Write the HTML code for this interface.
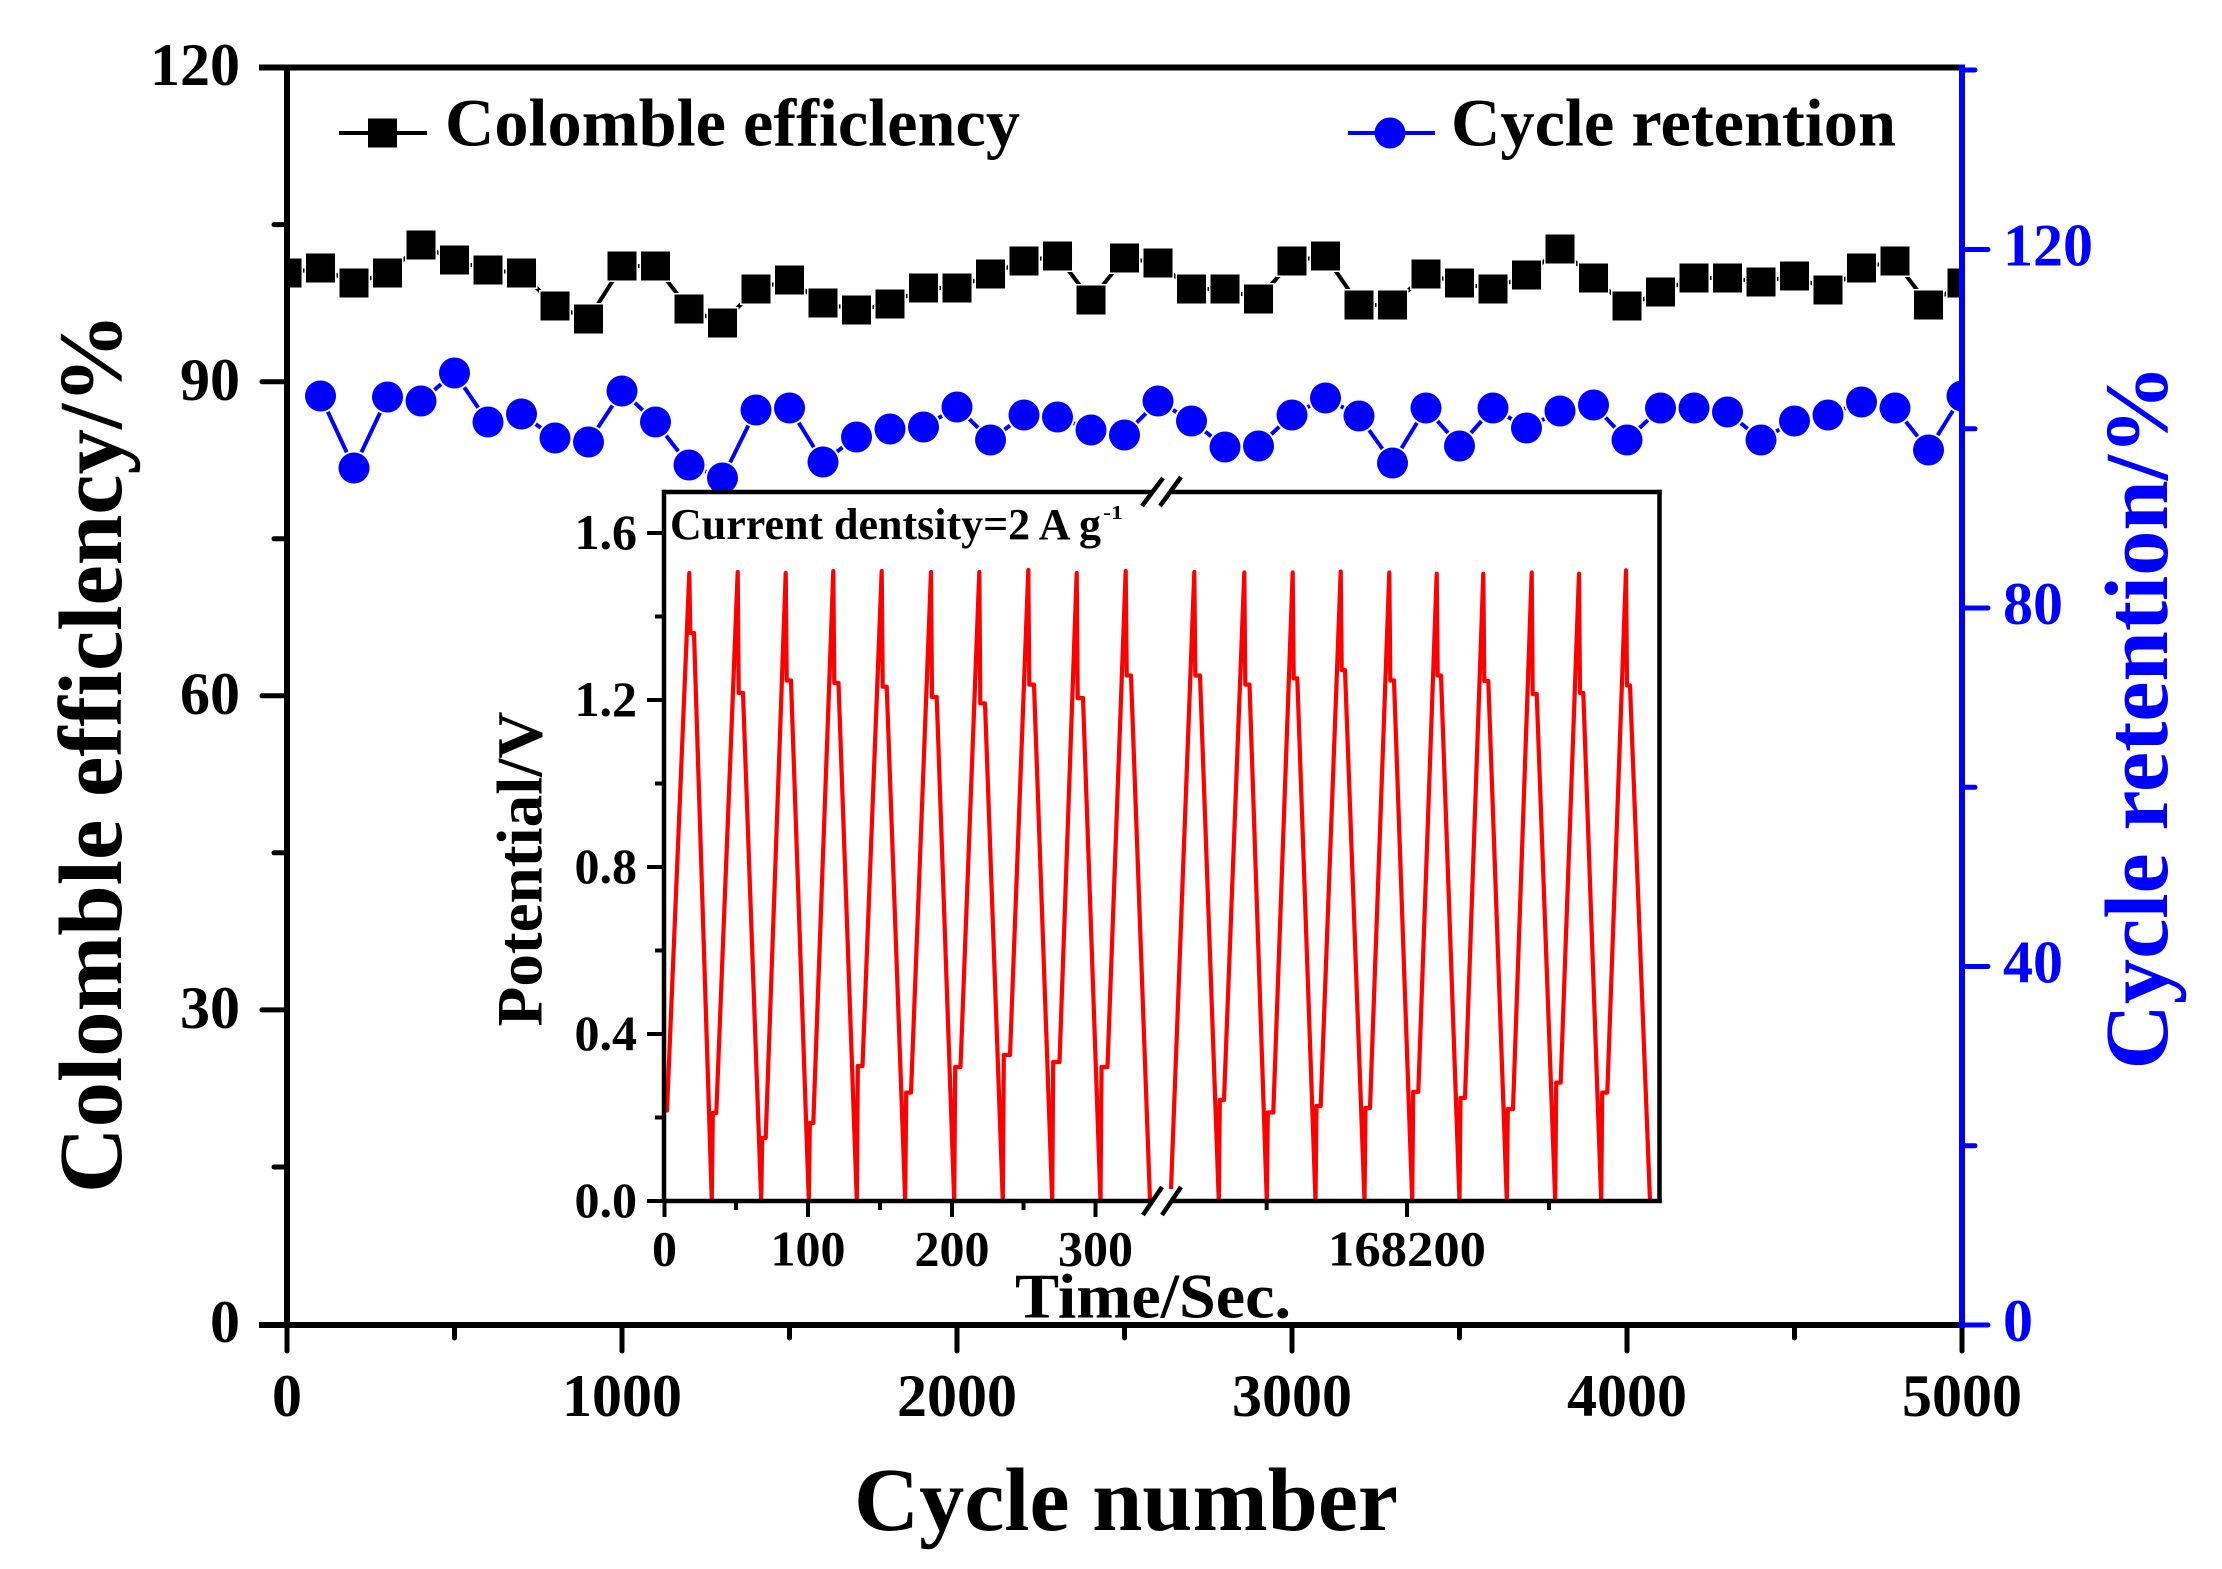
<!DOCTYPE html>
<html><head><meta charset="utf-8">
<style>
html,body{margin:0;padding:0;background:#fff}
svg{display:block}
text{font-family:"Liberation Serif","Times New Roman",serif;font-weight:bold}
</style></head>
<body>
<svg width="2222" height="1569" viewBox="0 0 2222 1569" xmlns="http://www.w3.org/2000/svg">
<rect x="0" y="0" width="2222" height="1569" fill="#fff"/>
<defs>
<clipPath id="pc"><rect x="287" y="60" width="1675" height="1270"/></clipPath>
</defs>

<!-- data -->
<g clip-path="url(#pc)">
<polyline fill="none" stroke="#0000ff" stroke-width="4" points="320.5,396 354,468 387.5,397 421,401 454.5,373 488,422 521.5,414 555,438 588.5,442 622,391 655.5,422 689,465 722.5,478 756,410 789.5,408 823,462 856.5,437 890,429 923.5,427 957,407 990.5,440 1024,415 1057.5,417 1091,430 1124.5,435 1158,401 1191.5,421 1225,447 1258.5,446 1292,415 1325.5,398 1359,416 1392.5,463 1426,408 1459.5,446 1493,408 1526.5,428 1560,411 1593.5,405 1627,440 1660.5,408 1694,408 1727.5,412 1761,440 1794.5,421 1828,415 1861.5,402 1895,408 1928.5,450 1962,396"/>
<polyline fill="none" stroke="#000" stroke-width="4" points="287,273 320.5,268 354,283 387.5,273 421,245 454.5,260 488,270 521.5,273 555,306 588.5,319 622,266 655.5,266 689,309 722.5,323 756,289 789.5,280 823,303 856.5,310 890,304 923.5,288 957,288 990.5,274 1024,261 1057.5,256 1091,300 1124.5,258 1158,263 1191.5,289 1225,289 1258.5,299 1292,261 1325.5,256 1359,305 1392.5,305 1426,274 1459.5,283 1493,289 1526.5,275 1560,249 1593.5,278 1627,306 1660.5,292 1694,278 1727.5,278 1761,282 1794.5,276 1828,290 1861.5,268 1895,261 1928.5,305 1962,283"/>
<!-- halos -->
<path fill="none" stroke="#fff" stroke-width="32" stroke-linecap="square" d="M287 273h.01M320.5 268h.01M354 283h.01M387.5 273h.01M421 245h.01M454.5 260h.01M488 270h.01M521.5 273h.01M555 306h.01M588.5 319h.01M622 266h.01M655.5 266h.01M689 309h.01M722.5 323h.01M756 289h.01M789.5 280h.01M823 303h.01M856.5 310h.01M890 304h.01M923.5 288h.01M957 288h.01M990.5 274h.01M1024 261h.01M1057.5 256h.01M1091 300h.01M1124.5 258h.01M1158 263h.01M1191.5 289h.01M1225 289h.01M1258.5 299h.01M1292 261h.01M1325.5 256h.01M1359 305h.01M1392.5 305h.01M1426 274h.01M1459.5 283h.01M1493 289h.01M1526.5 275h.01M1560 249h.01M1593.5 278h.01M1627 306h.01M1660.5 292h.01M1694 278h.01M1727.5 278h.01M1761 282h.01M1794.5 276h.01M1828 290h.01M1861.5 268h.01M1895 261h.01M1928.5 305h.01M1962 283h.01"/>
<path fill="none" stroke="#fff" stroke-width="35" stroke-linecap="round" d="M320.5 396h.01M354 468h.01M387.5 397h.01M421 401h.01M454.5 373h.01M488 422h.01M521.5 414h.01M555 438h.01M588.5 442h.01M622 391h.01M655.5 422h.01M689 465h.01M722.5 478h.01M756 410h.01M789.5 408h.01M823 462h.01M856.5 437h.01M890 429h.01M923.5 427h.01M957 407h.01M990.5 440h.01M1024 415h.01M1057.5 417h.01M1091 430h.01M1124.5 435h.01M1158 401h.01M1191.5 421h.01M1225 447h.01M1258.5 446h.01M1292 415h.01M1325.5 398h.01M1359 416h.01M1392.5 463h.01M1426 408h.01M1459.5 446h.01M1493 408h.01M1526.5 428h.01M1560 411h.01M1593.5 405h.01M1627 440h.01M1660.5 408h.01M1694 408h.01M1727.5 412h.01M1761 440h.01M1794.5 421h.01M1828 415h.01M1861.5 402h.01M1895 408h.01M1928.5 450h.01M1962 396h.01"/>
<!-- markers -->
<path fill="none" stroke="#000" stroke-width="29" stroke-linecap="square" d="M287 273h.01M320.5 268h.01M354 283h.01M387.5 273h.01M421 245h.01M454.5 260h.01M488 270h.01M521.5 273h.01M555 306h.01M588.5 319h.01M622 266h.01M655.5 266h.01M689 309h.01M722.5 323h.01M756 289h.01M789.5 280h.01M823 303h.01M856.5 310h.01M890 304h.01M923.5 288h.01M957 288h.01M990.5 274h.01M1024 261h.01M1057.5 256h.01M1091 300h.01M1124.5 258h.01M1158 263h.01M1191.5 289h.01M1225 289h.01M1258.5 299h.01M1292 261h.01M1325.5 256h.01M1359 305h.01M1392.5 305h.01M1426 274h.01M1459.5 283h.01M1493 289h.01M1526.5 275h.01M1560 249h.01M1593.5 278h.01M1627 306h.01M1660.5 292h.01M1694 278h.01M1727.5 278h.01M1761 282h.01M1794.5 276h.01M1828 290h.01M1861.5 268h.01M1895 261h.01M1928.5 305h.01M1962 283h.01"/>
<path fill="none" stroke="#0000ff" stroke-width="31" stroke-linecap="round" d="M320.5 396h.01M354 468h.01M387.5 397h.01M421 401h.01M454.5 373h.01M488 422h.01M521.5 414h.01M555 438h.01M588.5 442h.01M622 391h.01M655.5 422h.01M689 465h.01M722.5 478h.01M756 410h.01M789.5 408h.01M823 462h.01M856.5 437h.01M890 429h.01M923.5 427h.01M957 407h.01M990.5 440h.01M1024 415h.01M1057.5 417h.01M1091 430h.01M1124.5 435h.01M1158 401h.01M1191.5 421h.01M1225 447h.01M1258.5 446h.01M1292 415h.01M1325.5 398h.01M1359 416h.01M1392.5 463h.01M1426 408h.01M1459.5 446h.01M1493 408h.01M1526.5 428h.01M1560 411h.01M1593.5 405h.01M1627 440h.01M1660.5 408h.01M1694 408h.01M1727.5 412h.01M1761 440h.01M1794.5 421h.01M1828 415h.01M1861.5 402h.01M1895 408h.01M1928.5 450h.01M1962 396h.01"/>
</g>

<!-- main axes -->
<g stroke="#000" stroke-width="6" fill="none">
<line x1="259" y1="67.5" x2="1962" y2="67.5"/>
<line x1="287" y1="64.5" x2="287" y2="1328"/>
<line x1="259" y1="1325" x2="1962" y2="1325"/>
</g>
<g stroke="#000" stroke-width="5" stroke-linecap="round">
<line x1="262" y1="381.7" x2="287" y2="381.7"/>
<line x1="262" y1="695.8" x2="287" y2="695.8"/>
<line x1="262" y1="1009.9" x2="287" y2="1009.9"/>
<line x1="274" y1="224.6" x2="287" y2="224.6"/>
<line x1="274" y1="538.7" x2="287" y2="538.7"/>
<line x1="274" y1="852.8" x2="287" y2="852.8"/>
<line x1="274" y1="1167" x2="287" y2="1167"/>
<line x1="287" y1="1325" x2="287" y2="1351"/>
<line x1="622" y1="1325" x2="622" y2="1351"/>
<line x1="957" y1="1325" x2="957" y2="1351"/>
<line x1="1292" y1="1325" x2="1292" y2="1351"/>
<line x1="1627" y1="1325" x2="1627" y2="1351"/>
<line x1="1962" y1="1325" x2="1962" y2="1351"/>
<line x1="454.5" y1="1325" x2="454.5" y2="1338"/>
<line x1="789.5" y1="1325" x2="789.5" y2="1338"/>
<line x1="1124.5" y1="1325" x2="1124.5" y2="1338"/>
<line x1="1459.5" y1="1325" x2="1459.5" y2="1338"/>
<line x1="1794.5" y1="1325" x2="1794.5" y2="1338"/>
</g>
<line x1="1962" y1="64.5" x2="1962" y2="1328" stroke="#0000ff" stroke-width="6"/>
<g stroke="#0000ff" stroke-width="5" stroke-linecap="round">
<line x1="1962" y1="1325" x2="1988" y2="1325"/>
<line x1="1962" y1="966.5" x2="1988" y2="966.5"/>
<line x1="1962" y1="608" x2="1988" y2="608"/>
<line x1="1962" y1="249.5" x2="1988" y2="249.5"/>
<line x1="1962" y1="1145.8" x2="1975" y2="1145.8"/>
<line x1="1962" y1="787.3" x2="1975" y2="787.3"/>
<line x1="1962" y1="428.8" x2="1975" y2="428.8"/>
<line x1="1962" y1="70" x2="1975" y2="70"/>
</g>

<!-- main tick labels -->
<g font-size="60" text-anchor="end" fill="#000">
<text x="240" y="85">120</text>
<text x="240" y="400">90</text>
<text x="240" y="714">60</text>
<text x="240" y="1028">30</text>
<text x="240" y="1342">0</text>
</g>
<g font-size="60" text-anchor="middle" fill="#000">
<text x="287" y="1416">0</text>
<text x="622" y="1416">1000</text>
<text x="957" y="1416">2000</text>
<text x="1292" y="1416">3000</text>
<text x="1627" y="1416">4000</text>
<text x="1962" y="1416">5000</text>
</g>
<g font-size="60" text-anchor="start" fill="#0000ff">
<text x="2003" y="265.5">120</text>
<text x="2003" y="624">80</text>
<text x="2003" y="982.5">40</text>
<text x="2003" y="1341">0</text>
</g>

<!-- axis titles -->
<text x="1126" y="1530" font-size="90" text-anchor="middle" textLength="544" lengthAdjust="spacingAndGlyphs">Cycle number</text>
<text transform="translate(121,753) rotate(-90)" x="0" y="0" font-size="90" text-anchor="middle" textLength="880" lengthAdjust="spacingAndGlyphs">Colomble efficlency/%</text>
<text transform="translate(2167,717) rotate(-90)" x="0" y="0" font-size="90" text-anchor="middle" fill="#0000ff" textLength="705" lengthAdjust="spacingAndGlyphs">Cycle retention/%</text>

<!-- legend -->
<line x1="339" y1="133" x2="427" y2="133" stroke="#000" stroke-width="4"/>
<rect x="368" y="118.5" width="29" height="29" fill="#000"/>
<text x="445" y="145.5" font-size="68" textLength="575" lengthAdjust="spacingAndGlyphs">Colomble efficlency</text>
<line x1="1348" y1="133" x2="1435" y2="133" stroke="#0000ff" stroke-width="4"/>
<circle cx="1390" cy="133" r="15.5" fill="#0000ff"/>
<text x="1451" y="145.5" font-size="68" textLength="445" lengthAdjust="spacingAndGlyphs">Cycle retention</text>

<!-- inset -->
<path fill="none" stroke="#ff0000" stroke-width="4.2" stroke-linejoin="round" d="M665,1110.5 L667,1110.5 L689.3,573 L690.3,633 L694,633 L711.8,1201 L712.8,1113 L716.3,1113 L737.7,572 L738.7,693 L743,693 L761.2,1201 L762.2,1138 L765.7,1138 L785.7,573 L786.7,680.5 L791,680.5 L808.8,1201 L809.8,1123 L813.3,1123 L833.3,571 L834.3,683 L838.5,683 L856.8,1201 L857.8,1066 L862.5,1066 L881.7,571 L882.7,686.7 L886.7,686.7 L905.2,1201 L906.2,1092.6 L911,1092.6 L931,572 L932,697 L936.7,697 L954.2,1201 L955.2,1067 L960.5,1067 L979.3,572 L980.3,703.3 L985,703.3 L1002.8,1201 L1003.8,1055 L1010,1055 L1028.3,570 L1029.3,684.6 L1034,684.6 L1052.2,1201 L1053.2,1062 L1059.5,1062 L1076.7,573 L1077.7,698 L1083,698 L1100.5,1201 L1101.5,1067 L1107.5,1067 L1125.7,571 L1126.7,675.5 L1131,675.5 L1150,1201"/>
<path fill="none" stroke="#ff0000" stroke-width="4.2" stroke-linejoin="round" d="M1171,1189 L1194.3,572 L1195.3,675.5 L1200,675.5 L1218.8,1201 L1219.8,1100 L1224,1100 L1244.3,572.5 L1245.3,684.6 L1249.5,684.6 L1266.8,1201 L1267.8,1112.5 L1273.3,1112.5 L1292.7,572.5 L1293.7,678.4 L1297.3,678.4 L1315.5,1201 L1316.5,1106 L1320.7,1106 L1340.7,571.6 L1341.7,670 L1345,670 L1364.5,1201 L1365.5,1108 L1370,1108 L1389.3,572.5 L1390.3,680.5 L1394,680.5 L1412.2,1201 L1413.2,1091.8 L1418.3,1091.8 L1436.7,573.7 L1437.7,675.5 L1441,675.5 L1459.5,1201 L1460.5,1098 L1465,1098 L1483.3,573.7 L1484.3,681 L1488.3,681 L1506.8,1201 L1507.8,1109 L1513,1109 L1531.7,572.5 L1532.7,694 L1536.7,694 L1555.2,1201 L1556.2,1082.6 L1560.7,1082.6 L1579,573.7 L1580,693 L1583.3,693 L1601.2,1201 L1602.2,1092.6 L1607.3,1092.6 L1626,570.4 L1627,685.5 L1630,685.5 L1650,1201"/>
<g stroke="#000" stroke-width="4.5" fill="none">
<line x1="664" y1="489.8" x2="664" y2="1203"/>
<line x1="1659.5" y1="489.8" x2="1659.5" y2="1203"/>
<line x1="662" y1="492" x2="1152.5" y2="492"/>
<line x1="1170" y1="492" x2="1661.7" y2="492"/>
<line x1="662" y1="1201" x2="1152.5" y2="1201"/>
<line x1="1171.5" y1="1201" x2="1661.7" y2="1201"/>
<line x1="1142" y1="506" x2="1163" y2="478"/>
<line x1="1160" y1="506" x2="1181" y2="477"/>
<line x1="1143" y1="1215" x2="1162" y2="1187"/>
<line x1="1162" y1="1215" x2="1181" y2="1187"/>
</g>
<g stroke="#000" stroke-width="4">
<line x1="647" y1="1201" x2="664" y2="1201"/>
<line x1="647" y1="1034" x2="664" y2="1034"/>
<line x1="647" y1="867" x2="664" y2="867"/>
<line x1="647" y1="700" x2="664" y2="700"/>
<line x1="647" y1="533" x2="664" y2="533"/>
<line x1="655" y1="1117.5" x2="664" y2="1117.5"/>
<line x1="655" y1="950.5" x2="664" y2="950.5"/>
<line x1="655" y1="783.5" x2="664" y2="783.5"/>
<line x1="655" y1="616.5" x2="664" y2="616.5"/>
<line x1="664.5" y1="1201" x2="664.5" y2="1217"/>
<line x1="808" y1="1201" x2="808" y2="1217"/>
<line x1="952" y1="1201" x2="952" y2="1217"/>
<line x1="1095.5" y1="1201" x2="1095.5" y2="1217"/>
<line x1="1407" y1="1201" x2="1407" y2="1217"/>
<line x1="736" y1="1201" x2="736" y2="1210"/>
<line x1="880" y1="1201" x2="880" y2="1210"/>
<line x1="1023.5" y1="1201" x2="1023.5" y2="1210"/>
<line x1="1266.7" y1="1201" x2="1266.7" y2="1210"/>
<line x1="1549" y1="1201" x2="1549" y2="1210"/>
</g>
<g font-size="50" text-anchor="end" fill="#000">
<text x="637" y="1217">0.0</text>
<text x="637" y="1050">0.4</text>
<text x="637" y="883">0.8</text>
<text x="637" y="716">1.2</text>
<text x="637" y="549">1.6</text>
</g>
<g font-size="50" text-anchor="middle" fill="#000">
<text x="664.5" y="1265.5">0</text>
<text x="808" y="1265.5">100</text>
<text x="952" y="1265.5">200</text>
<text x="1095.5" y="1265.5">300</text>
<text x="1407" y="1265.5" textLength="158" lengthAdjust="spacingAndGlyphs">168200</text>
</g>
<text x="1015" y="1317.5" font-size="64" textLength="276" lengthAdjust="spacingAndGlyphs">Time/Sec.</text>
<text transform="translate(541.5,869) rotate(-90)" x="0" y="0" font-size="65" text-anchor="middle" textLength="315" lengthAdjust="spacingAndGlyphs">Potential/V</text>
<text x="670" y="539" font-size="44" textLength="431" lengthAdjust="spacingAndGlyphs">Current dentsity=2 A g</text>
<text x="1103" y="519" font-size="20" textLength="20" lengthAdjust="spacingAndGlyphs">-1</text>
</svg>
</body></html>
